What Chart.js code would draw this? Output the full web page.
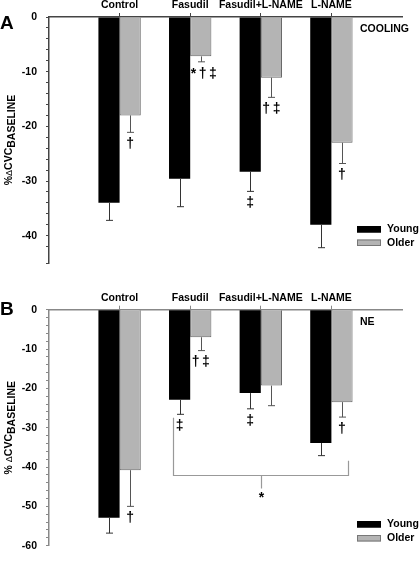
<!DOCTYPE html>
<html>
<head>
<meta charset="utf-8">
<script src="https://cdn.jsdelivr.net/npm/chart.js@4"></script>
<style>
  body { margin: 0; background: #fff; }
  canvas { display: block; }
</style>
</head>
<body>
<canvas id="coolChart" width="420" height="280"></canvas>
<canvas id="neChart" width="420" height="281"></canvas>
<script>
// categories (shared by both panels)
var categories = ['Control', 'Fasudil', 'Fasudil+L-NAME', 'L-NAME'];
var seriesNames = ['Young', 'Older'];

// panel A: cooling
var coolYoung    = [-34.0, -29.6, -28.3, -38.0];
var coolYoungErr = [3.2, 5.1, 3.6, 4.2];
var coolOlder    = [-18.0, -7.2, -11.1, -23.0];
var coolOlderErr = [3.1, 1.0, 3.6, 3.8];
var coolYoungSig = ['', '', '\u2021', ''];
var coolOlderSig = ['\u2020', '*\u2020\u2021', '\u2020\u2021', '\u2020'];
var coolYMin = -45;

// panel B: NE
var neYoung    = [-52.9, -22.9, -21.2, -33.9];
var neYoungErr = [3.9, 3.7, 4.0, 3.2];
var neOlder    = [-40.8, -7.0, -19.3, -23.5];
var neOlderErr = [9.2, 3.4, 5.1, 3.8];
var neYoungSig = ['', '\u2021', '\u2021', ''];
var neOlderSig = ['\u2020', '\u2020\u2021', '', '\u2020'];
var neYMin = -60;

// Fasudil young vs L-NAME older comparison bracket in panel B
var bracketCats = ['Fasudil', 'L-NAME'];
var bracketEnds = [-27.5, -38.4];
var bracketLevel = -41.9;
var bracketMark = '*';

var FONT = '"Liberation Sans", Arial, sans-serif';

function pad(arr) { return [null].concat(arr, [null]); }
function padText(arr) { return [''].concat(arr, ['']); }

// draws symbols one by one with a small gap, centred on x
function drawSpaced(ctx, text, x, y, gap) {
    var chars = text.split('');
    var widths = chars.map(function(c) { return ctx.measureText(c).width; });
    var total = widths.reduce(function(a, b) { return a + b; }, 0) + gap * (chars.length - 1);
    var px = x - total / 2;
    ctx.textAlign = 'left';
    chars.forEach(function(c, k) {
        ctx.fillText(c, px, y);
        px += widths[k] + gap;
    });
}

var errorBars = {
    id: 'errorBars',
    afterDatasetsDraw: function(chart) {
        var ctx = chart.ctx, y = chart.scales.y;
        ctx.save();
        chart.data.datasets.forEach(function(ds, i) {
            var meta = chart.getDatasetMeta(i);
            meta.data.forEach(function(bar, j) {
                var v = ds.data[j];
                if (v == null) return;
                var end = y.getPixelForValue(v - ds.errs[j]);
                var x = Math.round(bar.x) + 0.5;
                ctx.strokeStyle = ds.errColor;
                ctx.lineWidth = 1;
                ctx.beginPath();
                ctx.moveTo(x, bar.y);
                ctx.lineTo(x, end);
                ctx.moveTo(x - 3.5, end);
                ctx.lineTo(x + 3.5, end);
                ctx.stroke();
                if (ds.sig[j]) {
                    ctx.fillStyle = '#000';
                    ctx.font = 'bold 14px ' + FONT;
                    ctx.textBaseline = 'middle';
                    drawSpaced(ctx, ds.sig[j], bar.x + (ds.sig[j].length > 2 ? 3 : 0), end + 12, 2.5);
                }
            });
        });
        ctx.restore();
    }
};

var panelDecor = {
    id: 'panelDecor',
    afterDraw: function(chart, args, o) {
        var ctx = chart.ctx, area = chart.chartArea;
        ctx.save();
        ctx.fillStyle = '#000';

        // panel letter
        ctx.font = 'bold 19px ' + FONT;
        ctx.textAlign = 'left';
        ctx.textBaseline = 'middle';
        ctx.fillText(o.letter, 0, o.letterY);

        // condition label
        ctx.font = 'bold 10.5px ' + FONT;
        ctx.fillText(o.condition, area.right - 42, area.top + 12);

        // y title: %ΔCVC with BASELINE subscript
        var parts = [
            { t: o.pct, f: 'bold 10.5px ' + FONT, dy: 0 },
            { t: '\u0394', f: '9px ' + FONT, dy: 0 },
            { t: 'CVC', f: 'bold 10.5px ' + FONT, dy: 0 },
            { t: 'BASELINE', f: 'bold 10.5px ' + FONT, dy: 3 }
        ];
        var total = 0;
        parts.forEach(function(p) { ctx.font = p.f; p.w = ctx.measureText(p.t).width; total += p.w; });
        ctx.translate(12, (area.top + area.bottom) / 2);
        ctx.rotate(-Math.PI / 2);
        ctx.textBaseline = 'alphabetic';
        var px = -total / 2;
        parts.forEach(function(p) { ctx.font = p.f; ctx.fillText(p.t, px, p.dy); px += p.w; });
        ctx.setTransform(1, 0, 0, 1, 0, 0);

        // legend
        var colors = [['#000', '#000'], ['#b4b4b4', '#777']];
        ctx.font = 'bold 10.5px ' + FONT;
        ctx.textBaseline = 'middle';
        seriesNames.forEach(function(name, k) {
            var top = o.legendTop + k * o.legendGap;
            ctx.fillStyle = colors[k][0];
            ctx.fillRect(357, top, 24, 6.5);
            ctx.strokeStyle = colors[k][1];
            ctx.lineWidth = 1;
            ctx.strokeRect(357.5, top + 0.5, 23, 5.5);
            ctx.fillStyle = '#000';
            ctx.fillText(name, 387, top + 3.5);
        });
        ctx.restore();
    }
};

function makePanel(id, young, youngErr, youngSig, older, olderErr, olderSig, yMin, axisColor, deco, topH, bottomPad, extra) {
    var ctx = document.getElementById(id).getContext('2d');
    return new Chart(ctx, {
        type: 'bar',
        data: {
            labels: padText(categories),
            datasets: [{
                label: seriesNames[0],
                data: pad(young),
                errs: pad(youngErr),
                sig: padText(youngSig),
                errColor: '#333',
                backgroundColor: '#000',
                borderWidth: 0
            }, {
                label: seriesNames[1],
                data: pad(older),
                errs: pad(olderErr),
                sig: padText(olderSig),
                errColor: '#555',
                backgroundColor: '#b4b4b4',
                borderColor: '#666',
                borderWidth: 1
            }]
        },
        options: {
            responsive: false,
            animation: false,
            devicePixelRatio: 1,
            layout: { padding: { left: 0, right: 18, top: 0, bottom: bottomPad } },
            datasets: { bar: { categoryPercentage: 0.6, barPercentage: 1.0 } },
            plugins: {
                legend: { display: false },
                tooltip: { enabled: false },
                panelDecor: deco
            },
            scales: {
                x: {
                    type: 'category',
                    position: 'top',
                    offset: false,
                    afterFit: function(s) { s.height = topH; },
                    grid: {
                        offset: false,
                        drawOnChartArea: false,
                        tickLength: 4,
                        tickColor: function(c) {
                            return (c.index === 0 || c.index === categories.length + 1) ? 'rgba(0,0,0,0)' : axisColor;
                        }
                    },
                    border: { display: true, color: axisColor, width: 1.5 },
                    ticks: {
                        color: '#000',
                        padding: 1.5,
                        maxRotation: 0,
                        autoSkip: false,
                        font: { family: FONT, size: 10.5, weight: 'bold' }
                    }
                },
                y: {
                    min: yMin,
                    max: 0,
                    afterFit: function(s) { s.width = 49; },
                    grid: { drawOnChartArea: false, tickLength: 3, color: axisColor },
                    border: { display: true, color: axisColor, width: 1.5 },
                    ticks: {
                        stepSize: 2,
                        autoSkip: false,
                        padding: 9,
                        color: '#000',
                        font: { family: FONT, size: 10.5, weight: 'bold' },
                        callback: function(v) { return v % 10 === 0 ? v : ''; }
                    }
                }
            }
        },
        plugins: [errorBars, panelDecor].concat(extra || [])
    });
}

var bracket = {
    id: 'bracket',
    afterDatasetsDraw: function(chart) {
        var ctx = chart.ctx, xs = chart.scales.x, ys = chart.scales.y;
        var i0 = categories.indexOf(bracketCats[0]) + 1;
        var i1 = categories.indexOf(bracketCats[1]) + 1;
        var step = xs.getPixelForValue(i0 + 1) - xs.getPixelForValue(i0);
        var x0 = Math.round(xs.getPixelForValue(i0) - 0.24 * step) + 0.5;
        var x1 = Math.round(xs.getPixelForValue(i1) + 0.24 * step) + 0.5;
        var yb = Math.round(ys.getPixelForValue(bracketLevel)) + 0.5;
        var xm = Math.round((x0 + x1) / 2) + 0.5;
        ctx.save();
        ctx.strokeStyle = '#999';
        ctx.lineWidth = 1.2;
        ctx.beginPath();
        ctx.moveTo(x0, ys.getPixelForValue(bracketEnds[0]));
        ctx.lineTo(x0, yb);
        ctx.lineTo(x1, yb);
        ctx.lineTo(x1, ys.getPixelForValue(bracketEnds[1]));
        ctx.moveTo(xm, yb);
        ctx.lineTo(xm, yb + 13);
        ctx.stroke();
        ctx.fillStyle = '#000';
        ctx.font = 'bold 14px ' + FONT;
        ctx.textAlign = 'center';
        ctx.textBaseline = 'middle';
        ctx.fillText(bracketMark, xm, yb + 23);
        ctx.restore();
    }
};

makePanel('coolChart', coolYoung, coolYoungErr, coolYoungSig, coolOlder, coolOlderErr, coolOlderSig,
    coolYMin, '#444',
    { letter: 'A', letterY: 24, condition: 'COOLING', pct: '%', legendTop: 226, legendGap: 13.5 },
    17, 17);

makePanel('neChart', neYoung, neYoungErr, neYoungSig, neOlder, neOlderErr, neOlderSig,
    neYMin, '#888',
    { letter: 'B', letterY: 30, condition: 'NE', pct: '% ', legendTop: 241, legendGap: 14 },
    29.7, 5, [bracket]);
</script>
</body>
</html>
